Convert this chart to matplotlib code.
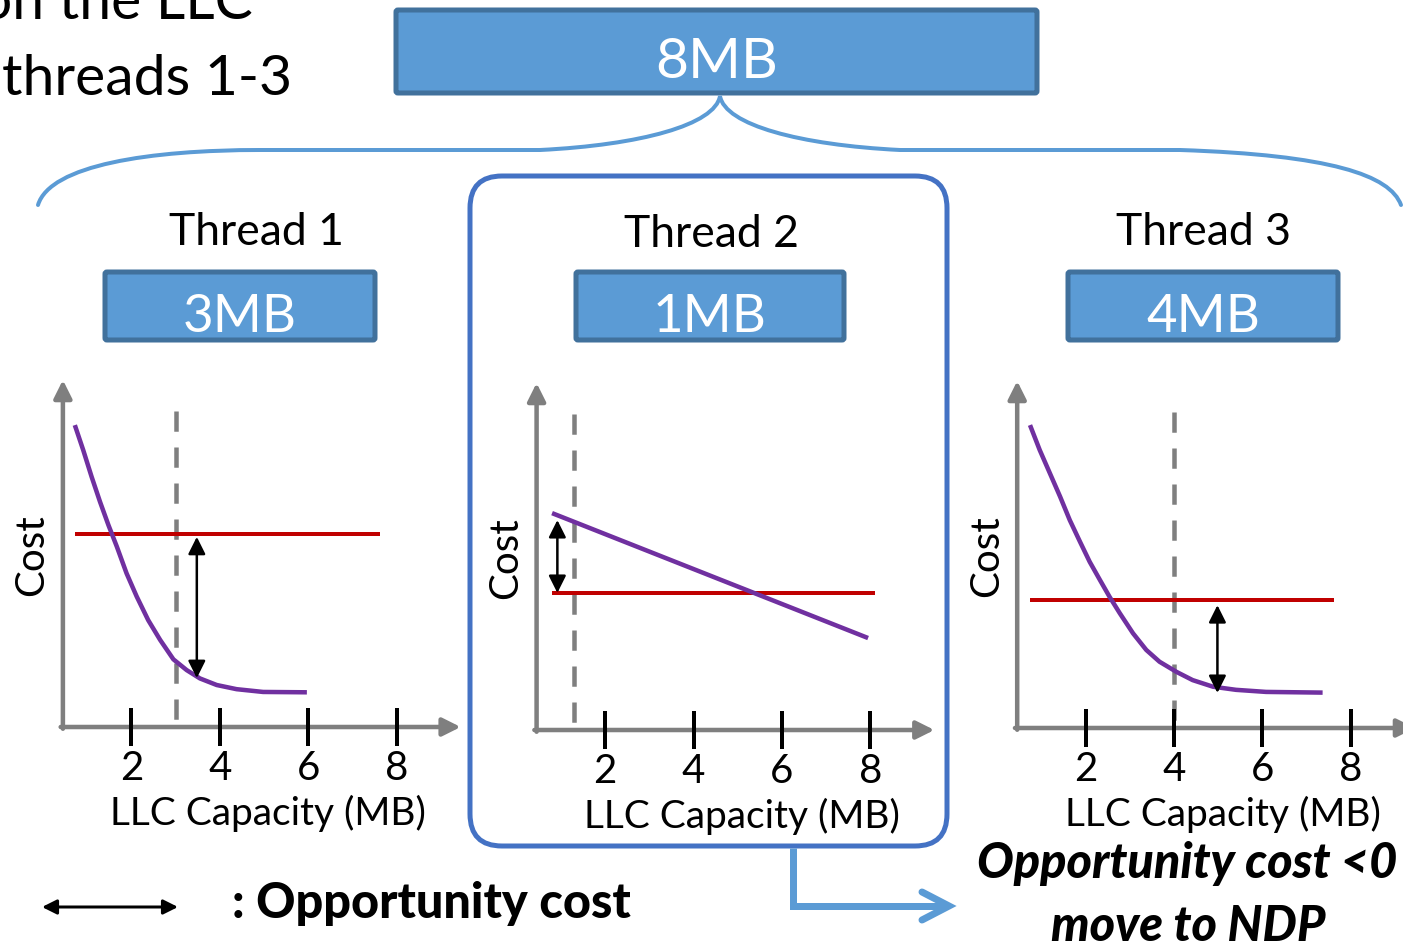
import matplotlib
matplotlib.use("Agg")
import matplotlib.pyplot as plt
from matplotlib.patches import FancyBboxPatch, PathPatch
from matplotlib.path import Path

W, H = 1403, 944
plt.rcParams["font.family"] = ["Lato", "DejaVu Sans"]

BLUE = "#5b9bd5"
BLUE_EDGE = "#41719c"
FRAME = "#4472c4"
GRAY = "#7f7f7f"
RED = "#c00000"
PURPLE = "#7030a0"

# ---- data -------------------------------------------------------------
total_label = "8MB"
thread_names = ["Thread 1", "Thread 2", "Thread 3"]
alloc_labels = ["3MB", "1MB", "4MB"]
alloc_mb = [3.0, 1.3, 4.0]            # dashed marker: current LLC share
x_ticks = [2, 4, 6, 8]

# cost curve vs. LLC capacity for each thread
t1_mb = [0.72, 0.91, 1.10, 1.29, 1.48, 1.67, 1.89, 2.12, 2.38, 2.65, 2.95,
         3.25, 3.55, 3.93, 4.38, 4.98, 5.97]
t1_cost = [8.70, 7.98, 7.21, 6.49, 5.82, 5.20, 4.43, 3.76, 3.08, 2.51, 1.95,
           1.64, 1.40, 1.21, 1.09, 1.01, 1.00]
t2_mb = [0.80, 7.95]
t2_cost = [6.25, 2.65]
t3_mb = [0.74, 0.96, 1.19, 1.42, 1.64, 1.87, 2.09, 2.32, 2.54, 2.77, 3.07,
         3.37, 3.67, 4.05, 4.42, 4.88, 5.40, 6.08, 7.36]
t3_cost = [8.73, 8.01, 7.34, 6.67, 5.99, 5.37, 4.79, 4.27, 3.78, 3.31, 2.73,
           2.25, 1.91, 1.62, 1.38, 1.19, 1.10, 1.04, 1.02]

# cost when running on NDP (flat), and its drawn extent
ndp_cost = [5.56, 3.95, 3.69]
ndp_span = [(0.72, 7.62), (0.80, 8.10), (0.74, 7.62)]

# opportunity-cost arrows: x position, upper end, lower end
opp_x = [3.48, 0.92, 4.98]
opp_top = [5.48, 6.05, 3.54]
opp_bottom = [1.41, 3.95, 1.01]

curves = [(t1_mb, t1_cost), (t2_mb, t2_cost), (t3_mb, t3_cost)]

# pixel placement of each panel's origin and its scale
origins = [(43.0, 727.0), (516.7, 730.0), (997.3, 728.0)]
SX, SY = 44.2, 34.7

fig = plt.figure(figsize=(W / 100, H / 100), dpi=100)
bg = fig.add_axes([0, 0, 1, 1])
bg.set_xlim(0, W)
bg.set_ylim(H, 0)
bg.set_axis_off()

PT = 0.72  # pixels -> points


def box(ax, x0, y0, x1, y1, label, fs, baseline):
    p = FancyBboxPatch((x0, y0), x1 - x0, y1 - y0,
                       boxstyle="round,pad=0,rounding_size=2",
                       fc=BLUE, ec=BLUE_EDGE, lw=5 * PT)
    ax.add_patch(p)
    ax.text((x0 + x1) / 2, baseline, label, color="white", fontsize=fs,
            ha="center", va="baseline")


# top text
bg.text(253, 19, "on the LLC", fontsize=41, ha="right", va="baseline")
bg.text(292, 95, "threads 1-3", fontsize=41, ha="right", va="baseline")

# total allocation box and brace
box(bg, 396, 10, 1037, 93, total_label, 41, 78)
brace = Path(
    [(38, 205), (50, 165), (150, 150), (260, 150),
     (540, 150),
     (640, 145), (715, 125), (720, 96),
     (725, 125), (800, 145), (900, 150),
     (1180, 150),
     (1330, 155), (1390, 175), (1401, 205)],
    [Path.MOVETO, Path.CURVE4, Path.CURVE4, Path.CURVE4,
     Path.LINETO,
     Path.CURVE4, Path.CURVE4, Path.CURVE4,
     Path.CURVE4, Path.CURVE4, Path.CURVE4,
     Path.LINETO,
     Path.CURVE4, Path.CURVE4, Path.CURVE4])
bg.add_patch(PathPatch(brace, fc="none", ec=BLUE, lw=4 * PT, capstyle="round"))

# highlight frame around thread 2 and the NDP arrow
bg.add_patch(FancyBboxPatch((470, 176), 477, 670,
                            boxstyle="round,pad=0,rounding_size=32",
                            fc="none", ec=FRAME, lw=5 * PT))
bg.plot([793, 793, 946], [848, 906, 906], color=BLUE, lw=7 * PT,
        solid_joinstyle="miter", solid_capstyle="butt")
bg.plot([922, 949, 922], [892, 906, 920], color=BLUE, lw=7 * PT,
        solid_joinstyle="miter", solid_capstyle="round")

# per-thread boxes and titles
thread_boxes = [(105, 272, 375, 340), (576, 272, 844, 340), (1068, 272, 1338, 340)]
title_x = [256, 712, 1203]
title_base = [245, 247, 245]
for i in range(3):
    x0, y0, x1, y1 = thread_boxes[i]
    box(bg, x0, y0, x1, y1, alloc_labels[i], 38, 332)
    bg.text(title_x[i], title_base[i], thread_names[i], fontsize=32,
            ha="center", va="baseline")

# panels
for i in range(3):
    ox, oy = origins[i]
    ax = fig.add_axes([0, 0, 1, 1])
    ax.set_xlim((0 - ox) / SX, (W - ox) / SX)
    ax.set_ylim((oy - H) / SY, (oy - 0) / SY)
    ax.set_axis_off()

    # axes with arrow heads
    arrow_kw = dict(arrowstyle="-|>", color=GRAY, lw=4.5 * PT,
                    mutation_scale=27, shrinkA=0, shrinkB=0)
    ax.annotate("", xy=(0.45, 10.0), xytext=(0.45, -0.05),
                arrowprops=arrow_kw, annotation_clip=False)
    ax.annotate("", xy=(9.45, 0.0), xytext=(0.40, 0.0),
                arrowprops=arrow_kw, annotation_clip=False)

    # ticks
    for t in x_ticks:
        ax.plot([t, t], [0.55, -0.55], color="black", lw=4 * PT,
                solid_capstyle="butt", zorder=3)
        ax.text(t, -1.53, str(t), fontsize=29, ha="center", va="baseline")
    ax.text(5.1, -2.82, "LLC Capacity (MB)", fontsize=28,
            ha="center", va="baseline")
    ax.text(-0.25, 4.95, "Cost", fontsize=29, rotation=90,
            ha="center", va="center")

    # current allocation marker
    ax.plot([alloc_mb[i], alloc_mb[i]], [9.1, 0.2], color=GRAY, lw=4.5 * PT,
            dashes=(4.5, 3.5), dash_capstyle="butt", zorder=2)

    # NDP cost and on-core cost curve
    ax.plot(ndp_span[i], [ndp_cost[i], ndp_cost[i]], color=RED,
            lw=4 * PT, solid_capstyle="butt", zorder=3)
    mb, cost = curves[i]
    ax.plot(mb, cost, color=PURPLE, lw=4.5 * PT, solid_capstyle="butt",
            solid_joinstyle="round", zorder=4)

    # opportunity cost
    ax.annotate("", xy=(opp_x[i], opp_bottom[i]), xytext=(opp_x[i], opp_top[i]),
                arrowprops=dict(arrowstyle="<|-|>", color="black", lw=2.5 * PT,
                                mutation_scale=26, shrinkA=0, shrinkB=0),
                zorder=5)

# legend and conclusion
bg.annotate("", xy=(42, 907), xytext=(178, 907),
            arrowprops=dict(arrowstyle="<|-|>", color="black", lw=3 * PT,
                            mutation_scale=22, shrinkA=0, shrinkB=0))
bg.text(232, 918, ": Opportunity cost", fontsize=35, fontweight="black",
        ha="left", va="baseline")
bg.text(1187, 878, "Opportunity cost <0", fontsize=35, fontweight="black",
        style="italic", ha="center", va="baseline")
bg.text(1188, 941, "move to NDP", fontsize=35, fontweight="black",
        style="italic", ha="center", va="baseline")

fig.savefig("out.png", dpi=100, facecolor="white")
